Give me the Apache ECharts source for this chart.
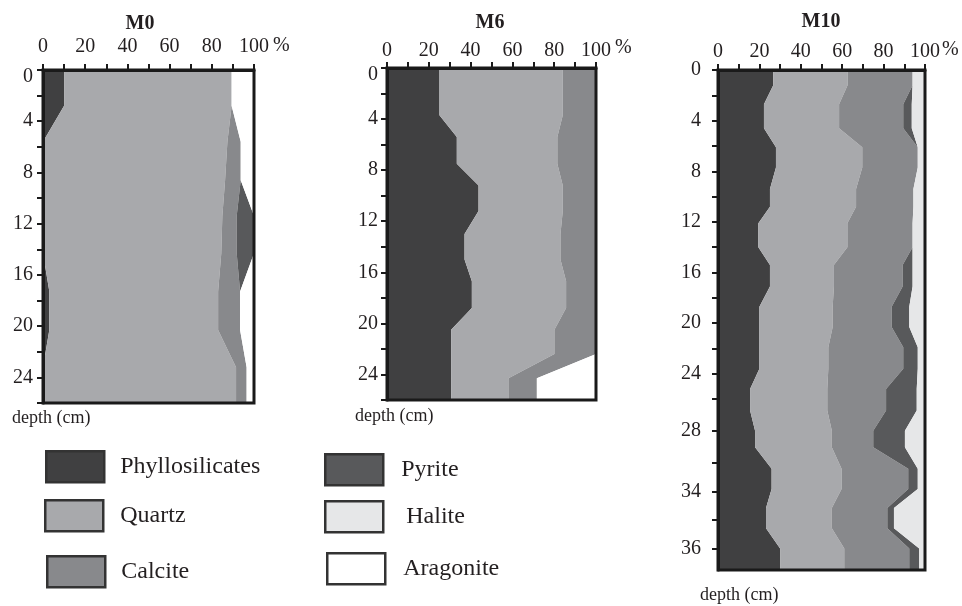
<!DOCTYPE html>
<html>
<head>
<meta charset="utf-8">
<title>Mineral composition profiles M0, M6, M10</title>
<script src="https://cdn.jsdelivr.net/npm/echarts@6/dist/echarts.min.js"></script>
<style>
  html, body { margin: 0; padding: 0; background: #fff; }
  #chart { width: 962px; height: 606px; }
</style>
</head>
<body>
<div id="chart"></div>
<script>
// Mineral names, left to right in every profile
const MINERALS = ['Phyllosilicates', 'Quartz', 'Calcite', 'Pyrite', 'Halite', 'Aragonite'];
const MINERAL_COLORS = ['#404041', '#a8a9ac', '#88898c', '#58595b', '#e6e7e8', '#ffffff'];

// ---- M0 core: sample top / base depth (cm) and composition (%) ----
const M0_TOP  = [0,   5.6, 8.6, 11.4, 14.3, 17.3, 20.3, 23.2];
const M0_BASE = [2.8, 5.6, 8.6, 11.4, 14.3, 17.3, 20.3, 26];
const M0_PHYLLO    = [10,   0,    0,    0,    0,    3,    3,    0];
const M0_QUARTZ    = [79.4, 87.4, 86.3, 85,   84.5, 80,   80,   91.5];
const M0_CALCITE   = [0,    6.3,  7.4,  6.8,  7.3,  10.4, 10.4, 5];
const M0_PYRITE    = [0,    0,    0,    8.2,  8.2,  0,    0,    0];
const M0_HALITE    = [0,    0,    0,    0,    0,    0,    0,    0];
const M0_ARAGONITE = [10.6, 6.3,  6.3,  0,    0,    6.6,  6.6,  3.5];

// ---- M6 core ----
const M6_TOP  = [0,   5.4, 9.2,  13, 16.7, 20.5, 24.3];
const M6_BASE = [3.7, 7.5, 11.2, 15, 18.8, 22.4, 26];
const M6_PHYLLO    = [25.1, 33.4, 43.8, 37.1, 40.6, 30.7, 30.7];
const M6_QUARTZ    = [59,   48.1, 40.3, 45.9, 45.1, 49.4, 27.4];
const M6_CALCITE   = [15.9, 18.5, 15.9, 17,   14.3, 19.9, 13.6];
const M6_PYRITE    = [0, 0, 0, 0, 0, 0, 0];
const M6_HALITE    = [0, 0, 0, 0, 0, 0, 0];
const M6_ARAGONITE = [0, 0, 0, 0, 0, 0, 28.3];

// ---- M10 core (depth in axis units) ----
const M10_TOP  = [0,   2.7, 6.1, 9.4,  12.1, 15.4, 18.7, 21.9, 25.2, 28.5, 31.5, 34.6, 37.8];
const M10_BASE = [1.2, 4.6, 7.7, 10.8, 14.0, 17.1, 20.3, 23.6, 26.9, 29.8, 33.1, 36.2, 39.5];
const M10_PHYLLO    = [26.7, 22.2, 28,   25.1, 19.5, 25.1, 20,   20,   15.5, 17.9, 25.9, 23.2, 30];
const M10_QUARTZ    = [35.9, 36.3, 41.7, 41.6, 43,   30.9, 35.4, 33.3, 37.3, 37.1, 33.8, 31.8, 31];
const M10_CALCITE   = [31.4, 31,   26.8, 27.7, 31.5, 33.2, 28.5, 36.2, 28.4, 20,   32.2, 26.8, 31.4];
const M10_PYRITE    = [0,    4.1,  0,    0,    0,    4.8,  8.5,  7,    14.8, 15.3, 4.6,  3.2,  4.8];
const M10_HALITE    = [6,    6.4,  3.5,  5.6,  6,    6,    7.6,  3.5,  4,    9.7,  3.5,  15,   2.8];
const M10_ARAGONITE = [0, 0, 0, 0, 0, 0, 0, 0, 0, 0, 0, 0, 0];

// Depth axis ticks and labels of the M10 profile
const M10_TICK_POS  = [0, 2, 4, 6, 8, 10, 12, 14, 16, 18, 20, 22, 24, 26, 28.5, 31, 33.3, 35.5, 37.8];
const M10_LABEL_POS = [0, 4, 8, 12, 16, 20, 24, 28.5, 33.3, 37.8];
const M10_LABEL_TXT = ['0', '4', '8', '12', '16', '20', '24', '28', '34', '36'];

const PANELS = [
  { title: 'M0',  top: M0_TOP,  base: M0_BASE,  maxDepth: 26,
    layers: [M0_PHYLLO, M0_QUARTZ, M0_CALCITE, M0_PYRITE, M0_HALITE, M0_ARAGONITE] },
  { title: 'M6',  top: M6_TOP,  base: M6_BASE,  maxDepth: 26,
    layers: [M6_PHYLLO, M6_QUARTZ, M6_CALCITE, M6_PYRITE, M6_HALITE, M6_ARAGONITE] },
  { title: 'M10', top: M10_TOP, base: M10_BASE, maxDepth: 39.5,
    layers: [M10_PHYLLO, M10_QUARTZ, M10_CALCITE, M10_PYRITE, M10_HALITE, M10_ARAGONITE] }
];

// Layout of the three profile frames
const GRIDS = [
  { left: 43,  top: 70, width: 211, height: 333 },
  { left: 387, top: 68, width: 209, height: 332 },
  { left: 718, top: 70, width: 207, height: 500 }
];
const X_LABEL_MARGIN = [13, 7, 8];
const Y_LABEL_MARGIN = [10, 9, 17];
const PCT_NAME_GAP = [19, 19, 17];
const PCT_LIFT = [48, 40, 40];

const SERIF = '"Liberation Serif", "Times New Roman", serif';
const INK = '#231f20';
const FRAME = '#1a1a1a';

// Outline (in data units) of one stacked mineral band
function bandOutline(top, base, layers, k) {
  const right = [], left = [];
  for (let i = 0; i < top.length; i++) {
    let l = 0;
    for (let j = 0; j < k; j++) l += layers[j][i];
    const r = l + layers[k][i];
    const depths = top[i] === base[i] ? [top[i]] : [top[i], base[i]];
    depths.forEach(function (d) { right.push([r, d]); left.push([l, d]); });
  }
  return right.concat(left.reverse());
}

const grid = [], xAxis = [], yAxis = [], series = [];

PANELS.forEach(function (p, gi) {
  grid.push(Object.assign({ show: true, z: 5, backgroundColor: 'transparent',
    borderColor: FRAME, borderWidth: 3, containLabel: false, outerBoundsMode: 'none' }, GRIDS[gi]));

  xAxis.push({
    type: 'value', gridIndex: gi, position: 'top', min: 0, max: 100, interval: 10, z: 6,
    name: '%', nameLocation: 'end', nameGap: PCT_NAME_GAP[gi], nameMoveOverlap: false,
    nameTextStyle: { fontFamily: SERIF, fontSize: 20, color: INK,
      verticalAlign: 'bottom', lineHeight: PCT_LIFT[gi] },
    axisLine: { show: true, lineStyle: { color: FRAME, width: 3 } },
    axisTick: { show: true, inside: false, length: 6, lineStyle: { color: FRAME, width: 2 } },
    axisLabel: { margin: X_LABEL_MARGIN[gi], fontFamily: SERIF, fontSize: 20, color: INK,
      formatter: function (v) { return v % 20 === 0 ? String(v) : ''; } },
    splitLine: { show: false }
  });

  const y = {
    type: 'value', gridIndex: gi, inverse: true, min: 0, max: p.maxDepth, z: 6,
    axisLine: { show: true, lineStyle: { color: FRAME, width: 3 } },
    axisTick: { show: true, inside: false, length: 6, lineStyle: { color: FRAME, width: 2 } },
    axisLabel: { margin: Y_LABEL_MARGIN[gi], fontFamily: SERIF, fontSize: 20, color: INK },
    splitLine: { show: false }
  };
  if (gi < 2) {
    y.interval = 2;
    y.axisLabel.formatter = function (v) {
      if (v === 0) return '{z|0}';
      return v % 4 === 0 ? String(v) : '';
    };
    y.axisLabel.rich = { z: { fontFamily: SERIF, fontSize: 20, color: INK, padding: [14, 0, 0, 0] } };
  } else {
    y.axisTick.customValues = M10_TICK_POS;
    y.axisLabel.customValues = M10_LABEL_POS;
    y.axisLabel.formatter = function (v) {
      let idx = -1;
      M10_LABEL_POS.forEach(function (pos, i) { if (Math.abs(pos - v) < 1e-6) idx = i; });
      return idx >= 0 ? M10_LABEL_TXT[idx] : '';
    };
  }
  yAxis.push(y);

  MINERALS.forEach(function (name, k) {
    if (!p.layers[k].some(function (v) { return v > 0; })) return;
    const outline = bandOutline(p.top, p.base, p.layers, k);
    series.push({
      type: 'custom', name: name, xAxisIndex: gi, yAxisIndex: gi, z: 2,
      itemStyle: { color: MINERAL_COLORS[k] },
      data: outline,
      renderItem: function (params, api) {
        if (params.dataIndex !== 0) return null;
        return {
          type: 'polygon',
          shape: { points: outline.map(function (pt) { return api.coord(pt); }) },
          style: { fill: MINERAL_COLORS[k] }
        };
      }
    });
  });
});

// Legend boxes: one legend per entry so each swatch sits in its own place
const LEGEND_POS = [
  { left: 45,  top: 450, pad: 11 },
  { left: 44,  top: 499, pad: 12 },
  { left: 46,  top: 555, pad: 11 },
  { left: 324, top: 453, pad: 13 },
  { left: 324, top: 500, pad: 18 },
  { left: 326, top: 552, pad: 13 }
];
const legend = MINERALS.map(function (name, k) {
  return {
    left: LEGEND_POS[k].left, top: LEGEND_POS[k].top, padding: 0, orient: 'vertical',
    icon: 'rect', itemWidth: 58, itemHeight: 31, selectedMode: false,
    data: [{ name: name, itemStyle: { color: MINERAL_COLORS[k], borderColor: '#333333', borderWidth: 2.5 } }],
    textStyle: { fontFamily: SERIF, fontSize: 24, color: INK, padding: [0, 0, 0, LEGEND_POS[k].pad] }
  };
});

// Panel titles and depth captions
const TITLE_POS = [[140, 24], [490, 23], [821, 22]];
const DEPTH_CAPTION_POS = [[12, 418], [355, 416], [700, 595]];
const graphic = [];
PANELS.forEach(function (p, gi) {
  graphic.push({ type: 'text', x: TITLE_POS[gi][0], y: TITLE_POS[gi][1],
    style: { text: p.title, fontFamily: SERIF, fontWeight: 'bold', fontSize: 20, fill: INK,
      textAlign: 'center', textVerticalAlign: 'middle' } });
  graphic.push({ type: 'text', x: DEPTH_CAPTION_POS[gi][0], y: DEPTH_CAPTION_POS[gi][1],
    style: { text: 'depth (cm)', fontFamily: SERIF, fontSize: 18, fill: INK,
      textAlign: 'left', textVerticalAlign: 'middle' } });
});

const chart = echarts.init(document.getElementById('chart'), null, { renderer: 'canvas' });
chart.setOption({
  backgroundColor: '#ffffff',
  animation: false,
  grid: grid,
  xAxis: xAxis,
  yAxis: yAxis,
  legend: legend,
  graphic: graphic,
  series: series
});
</script>
</body>
</html>
